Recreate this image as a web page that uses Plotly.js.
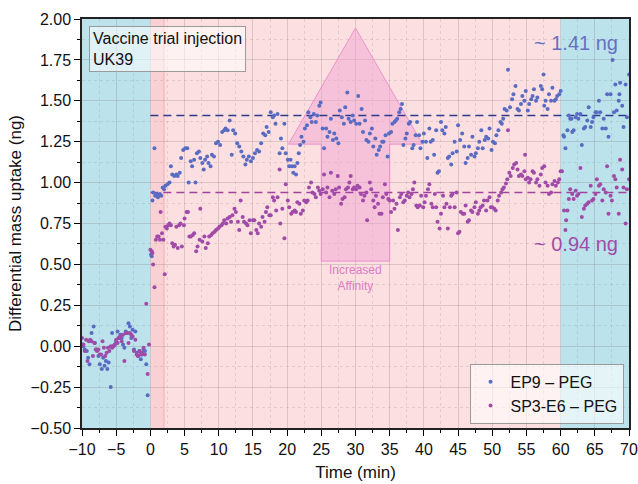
<!DOCTYPE html>
<html>
<head>
<meta charset="utf-8">
<script src="https://cdn.plot.ly/plotly-3.0.1.min.js"></script>
<style>html,body{margin:0;padding:0;background:#fff;}#chart{width:638px;height:484px;}</style>
</head>
<body>
<div id="chart"></div>
<script>
// EP9 – PEG (time in min, mass uptake in ng)
const ep9Time = [-10.0,-9.8,-9.6,-9.3,-9.1,-8.9,-8.6,-8.3,-8.1,-7.9,-7.6,-7.4,-7.1,-6.9,-6.7,-6.5,-6.3,-6.1,-5.8,-5.6,-5.4,-5.2,-5.0,-4.8,-4.6,-4.4,-4.2,-4.0,-3.8,-3.6,-3.4,-3.2,-3.0,-2.8,-2.6,-2.4,-2.2,-2.0,-1.8,-1.6,-1.4,-1.2,-1.0,-0.8,-0.6,-0.4,
0.1,0.2,0.3,0.4,0.6,0.7,0.9,1.1,1.2,1.4,1.6,1.8,2.0,2.2,2.5,2.8,3.0,3.2,3.5,3.8,4.0,4.3,4.5,4.8,5.1,5.4,5.6,5.9,6.1,6.4,6.6,6.8,7.1,7.3,7.6,7.8,8.0,8.3,8.5,8.8,9.0,9.3,9.6,9.9,10.2,10.5,10.8,11.0,11.3,11.6,11.9,12.1,12.4,12.7,13.0,13.3,13.6,13.9,14.1,14.4,14.7,15.0,15.3,15.6,15.9,16.2,16.5,16.8,17.0,17.3,17.6,17.9,18.1,18.3,18.6,18.9,19.1,19.3,19.6,19.8,20.1,20.3,20.5,20.7,20.9,21.1,21.3,21.5,21.7,21.9,22.1,22.4,22.6,22.9,23.1,23.4,23.6,23.9,24.2,24.4,24.7,24.9,25.2,25.4,25.7,25.9,26.2,26.4,26.7,26.9,27.2,27.5,27.7,28.0,28.3,28.5,28.8,29.0,29.3,29.6,29.8,30.1,30.4,30.6,30.9,31.1,31.4,31.6,31.9,32.1,32.4,32.6,32.9,33.1,33.4,33.6,33.9,34.1,34.4,34.7,34.9,35.2,35.4,35.7,35.9,36.1,36.4,36.6,36.8,37.0,37.3,37.5,37.8,38.0,38.3,38.5,38.8,39.0,39.3,39.5,39.8,40.0,40.3,40.5,40.8,41.0,41.3,41.5,41.8,42.0,42.2,42.5,42.7,43.0,43.2,43.5,43.7,44.0,44.2,44.5,44.8,45.0,45.3,45.6,45.9,46.1,46.4,46.6,46.9,47.1,47.4,47.6,47.9,48.1,48.4,48.6,48.9,49.1,49.4,49.6,49.9,50.1,50.4,50.6,50.9,51.2,51.4,51.6,51.8,52.1,52.3,52.6,52.9,53.1,53.4,53.7,53.9,54.2,54.4,54.7,54.9,55.2,55.4,55.7,55.9,56.1,56.4,56.6,57.1,57.3,57.5,57.6,57.8,58.1,58.3,58.6,58.8,59.1,59.3,59.5,59.8,60.0,
60.4,60.5,60.7,61.0,61.2,61.4,61.6,61.7,61.9,62.2,62.4,62.6,62.9,63.1,63.4,63.6,63.9,64.1,64.4,64.6,64.8,65.1,65.3,65.6,65.8,66.1,66.3,66.6,66.8,67.0,67.3,67.6,67.8,68.0,68.2,68.5,68.6,68.7,69.0,69.2,69.5,69.7,70.0];
const ep9Uptake = [0.01,0.00,-0.02,-0.03,-0.07,-0.11,0.08,0.12,0.02,-0.02,-0.06,-0.11,-0.14,-0.07,-0.12,-0.09,-0.14,-0.10,-0.25,0.08,0.00,0.01,0.03,0.09,0.05,0.07,0.05,0.01,-0.01,0.09,0.08,0.14,0.12,0.05,0.10,-0.02,0.09,-0.04,-0.06,-0.03,-0.08,-0.05,-0.02,-0.03,-0.11,-0.30,
0.56,0.55,0.89,0.94,1.21,0.92,0.93,0.91,0.92,0.93,0.92,0.97,0.96,0.98,0.99,1.00,1.10,1.05,1.04,1.05,1.04,1.06,1.15,1.20,1.21,1.21,1.00,1.13,1.10,1.14,1.00,1.18,1.19,1.15,1.12,1.08,1.14,1.16,1.12,1.10,1.17,1.16,1.24,1.25,1.23,1.31,1.32,1.33,1.32,1.38,1.17,1.32,1.30,1.24,1.22,1.19,1.16,1.11,1.14,1.16,1.13,1.15,1.18,1.20,1.19,1.24,1.30,1.29,1.34,1.31,1.43,1.40,1.41,1.36,1.42,1.18,1.27,1.21,1.36,1.18,1.14,1.10,1.14,1.10,1.06,1.10,1.05,1.12,1.18,1.23,1.28,1.25,1.33,1.35,1.43,1.40,1.37,1.42,1.37,1.41,1.47,1.49,1.33,1.21,1.33,1.28,1.31,1.39,1.26,1.30,1.27,1.24,1.44,1.40,1.36,1.46,1.55,1.39,1.37,1.41,1.38,1.36,1.53,1.36,1.45,1.31,1.38,1.26,1.25,1.30,1.33,1.22,1.27,1.17,1.20,1.22,1.25,1.25,1.29,1.16,1.30,1.31,1.36,1.37,1.38,1.39,1.43,1.45,1.48,1.23,1.27,1.30,1.36,1.37,1.21,1.23,1.29,1.37,1.29,1.21,1.25,1.30,1.25,1.15,1.33,1.25,1.26,1.17,1.32,1.06,1.07,1.37,1.32,1.30,1.34,1.15,1.16,1.11,1.18,1.25,1.19,1.35,1.26,1.30,1.22,1.12,1.15,1.22,1.17,1.28,1.16,1.18,1.21,1.25,1.32,1.21,1.26,1.28,1.27,1.33,1.20,1.25,1.24,1.29,1.32,1.37,1.36,1.39,1.45,1.44,1.69,1.46,1.51,1.54,1.59,1.45,1.44,1.48,1.53,1.50,1.56,1.44,1.48,1.51,1.53,1.57,1.50,1.52,1.59,1.57,1.66,1.47,1.50,1.45,1.54,1.50,1.58,1.50,1.51,1.53,1.54,1.56,
1.29,1.28,1.21,1.32,1.41,1.39,1.39,1.31,1.32,1.40,1.42,1.39,1.42,1.23,1.33,1.34,1.38,1.46,1.34,1.37,1.40,1.43,1.43,1.50,1.43,1.33,1.39,1.33,1.54,1.28,1.54,1.75,1.43,1.60,1.44,1.50,1.54,1.61,1.47,1.34,1.60,1.40,1.66];

// SP3-E6 – PEG
const sp3Time = [-10.0,-9.8,-9.6,-9.4,-9.2,-9.0,-8.8,-8.6,-8.4,-8.2,-8.0,-7.8,-7.6,-7.4,-7.2,-7.0,-6.8,-6.6,-6.4,-6.2,-6.0,-5.8,-5.6,-5.4,-5.2,-5.0,-4.8,-4.6,-4.4,-4.2,-4.0,-3.8,-3.6,-3.4,-3.2,-3.0,-2.8,-2.6,-2.4,-2.2,-2.0,-1.8,-1.6,-1.4,-1.2,-1.0,-0.8,-0.6,-0.4,-0.2,
0.0,0.2,0.3,0.4,0.6,0.8,1.0,1.2,1.4,1.5,1.7,1.9,2.1,2.2,2.4,2.6,2.8,3.0,3.2,3.4,3.6,3.8,4.0,4.2,4.4,4.6,4.9,5.0,5.3,5.5,5.7,5.9,6.2,6.4,6.7,6.9,7.2,7.3,7.6,7.9,8.1,8.4,8.6,8.9,9.1,9.4,9.6,9.9,10.1,10.4,10.6,10.8,11.1,11.3,11.6,11.8,12.0,12.3,12.5,12.8,13.0,13.2,13.5,13.7,14.0,14.2,14.5,14.7,15.0,15.2,15.5,15.7,15.9,16.2,16.4,16.7,16.9,17.1,17.4,17.6,17.9,18.1,18.4,18.6,18.9,19.0,19.3,19.6,19.8,20.1,20.3,20.6,20.8,21.1,21.3,21.5,21.8,22.0,22.3,22.5,22.8,23.0,23.2,23.5,23.7,24.0,24.2,24.5,24.7,24.9,25.2,25.4,25.7,25.9,26.2,26.4,26.6,26.9,27.1,27.4,27.6,27.9,28.1,28.4,28.6,28.9,29.1,29.3,29.6,29.8,30.1,30.3,30.6,30.8,31.1,31.3,31.6,31.7,32.1,32.3,32.6,32.8,33.0,33.3,33.5,33.8,34.0,34.3,34.5,34.8,35.0,35.2,35.5,35.7,36.0,36.2,36.5,36.7,37.0,37.2,37.5,37.7,37.9,38.2,38.4,38.6,38.9,39.1,39.4,39.6,39.9,40.1,40.3,40.6,40.8,41.1,41.3,41.6,41.8,42.0,42.3,42.5,42.8,43.0,43.3,43.5,43.8,44.0,44.2,44.5,44.8,45.0,45.2,45.4,45.7,45.9,46.1,46.4,46.6,46.9,47.1,47.4,47.6,47.9,48.1,48.3,48.6,48.8,49.1,49.3,49.6,49.8,50.0,50.3,50.5,50.8,51.0,51.3,51.5,51.7,52.0,52.2,52.3,52.5,52.7,53.0,53.2,53.5,53.7,53.9,54.2,54.4,54.7,54.8,54.9,55.2,55.4,55.6,55.9,56.1,56.4,56.6,56.9,57.1,57.3,57.6,57.8,58.1,58.3,58.6,58.8,59.1,59.3,59.6,59.8,60.0,
60.2,60.5,60.7,60.8,61.0,61.2,61.4,61.7,61.9,62.2,62.4,62.6,62.9,63.1,63.4,63.6,63.9,64.1,64.4,64.6,64.8,65.1,65.3,65.6,65.8,66.1,66.3,66.6,66.8,67.0,67.3,67.5,67.8,68.0,68.2,68.5,68.7,69.0,69.2,69.5,69.7,70.0];
const sp3Uptake = [0.05,0.01,-0.03,0.04,-0.09,0.03,0.04,0.03,-0.06,0.02,-0.02,-0.03,-0.02,-0.05,-0.05,0.03,-0.01,-0.06,-0.04,-0.01,-0.03,0.00,-0.01,0.00,0.01,0.04,0.02,0.05,0.06,0.03,0.07,-0.09,0.08,0.08,0.02,0.08,0.07,0.06,-0.03,0.04,-0.05,-0.06,-0.03,-0.05,-0.04,-0.01,-0.05,0.26,-0.17,0.01,
0.59,0.58,0.57,0.50,0.36,0.65,0.67,0.67,0.65,0.82,0.69,0.65,0.44,0.73,0.72,0.74,0.75,0.74,0.63,0.61,0.62,0.73,0.60,0.74,0.75,0.61,0.74,0.78,0.82,0.82,0.67,0.67,0.68,0.69,0.58,0.61,0.65,0.84,0.64,0.67,0.60,0.63,0.67,0.68,0.69,0.70,0.71,0.72,0.73,0.74,0.75,0.77,0.75,0.78,0.79,0.76,0.80,0.84,0.82,0.76,0.71,0.89,0.79,0.76,0.75,0.74,0.77,0.69,0.77,0.77,0.71,0.69,0.75,0.73,0.79,0.76,0.82,0.85,0.80,0.80,0.91,0.89,0.83,0.91,1.08,0.75,0.84,0.66,0.99,0.89,0.85,0.81,0.82,0.83,0.82,0.88,0.87,0.81,0.83,0.89,0.88,0.89,0.97,1.00,0.94,0.93,0.91,0.97,0.95,0.93,0.96,1.05,0.94,0.97,0.91,1.06,0.95,0.93,0.96,1.04,0.97,0.87,0.90,0.91,0.96,0.97,1.00,1.04,0.96,0.97,0.96,0.98,0.97,0.93,0.89,0.92,0.94,0.77,1.00,0.96,0.89,0.85,0.92,0.87,0.81,0.81,0.91,0.99,0.93,0.90,0.89,0.82,0.89,0.84,0.87,0.71,0.91,0.93,0.88,0.89,0.92,0.94,0.91,0.93,0.96,1.00,0.86,0.85,0.86,0.92,0.85,0.88,0.92,0.96,0.99,0.87,0.85,0.93,0.85,0.76,0.72,0.81,0.92,0.85,0.87,0.72,0.85,0.92,0.93,0.85,0.94,0.69,0.70,0.82,0.81,0.81,0.86,0.76,0.77,0.83,0.82,0.85,0.88,0.81,0.83,0.85,0.86,0.89,0.83,0.89,0.91,0.85,0.85,0.84,0.83,0.89,0.92,0.94,0.96,0.97,0.995,1.02,1.32,1.06,1.04,1.09,1.11,1.12,1.08,1.04,1.05,1.04,1.07,1.17,1.02,1.03,1.00,1.02,1.07,1.06,1.00,1.02,0.98,1.05,1.09,1.10,1.00,0.98,0.93,0.94,0.99,1.01,0.98,1.00,1.02,1.07,
1.07,0.83,0.71,0.77,0.83,0.90,0.96,0.93,0.90,0.95,0.92,0.93,1.09,0.79,0.84,0.86,0.87,0.88,0.98,0.89,0.90,0.93,1.02,0.98,0.99,0.89,0.96,0.94,1.10,0.81,0.92,0.89,1.04,1.02,0.97,0.81,1.14,1.08,0.97,0.75,0.96,1.02];

const seriesNames = ['EP9 \u2013 PEG', 'SP3-E6 \u2013 PEG'];
const plateauValues = [1.41, 0.94];
const plateauLabels = ['~ 1.41 ng', '~ 0.94 ng'];
const phaseBounds = [-10, 0, 60, 70];

const FONT = '"Liberation Sans", Arial, sans-serif';
const blue = '#5a6cc2', purple = '#a04ba8';
const cyan = '#bce3ec', pink = '#fcdfe0';

const traces = [
  {x: ep9Time, y: ep9Uptake, type: 'scatter', mode: 'markers', name: seriesNames[0],
   marker: {color: blue, size: 4}},
  {x: sp3Time, y: sp3Uptake, type: 'scatter', mode: 'markers', name: seriesNames[1],
   marker: {color: purple, size: 4}}
];

const shapes = [
  {type:'rect', xref:'x', yref:'paper', x0:phaseBounds[0], x1:phaseBounds[1], y0:0, y1:1, fillcolor:cyan, line:{width:0}, layer:'below'},
  {type:'rect', xref:'x', yref:'paper', x0:phaseBounds[1], x1:phaseBounds[2], y0:0, y1:1, fillcolor:pink, line:{width:0}, layer:'below'},
  {type:'rect', xref:'x', yref:'paper', x0:phaseBounds[2], x1:phaseBounds[3], y0:0, y1:1, fillcolor:cyan, line:{width:0}, layer:'below'},
  {type:'rect', xref:'x', yref:'paper', x0:0, x1:2, y0:0, y1:1, fillcolor:'rgba(240,150,165,0.18)', line:{width:0}, layer:'below'},
  {type:'line', xref:'x', yref:'paper', x0:2, x1:2, y0:0, y1:1, line:{color:'rgba(240,140,150,0.55)', width:1}, layer:'below'},
  // arrow
  {type:'path', xref:'x', yref:'y', layer:'between',
   path:'M 25 0.52 L 35 0.52 L 35 1.235 L 39.8 1.235 L 30 1.945 L 20.2 1.235 L 25 1.235 Z',
   fillcolor:'rgba(240,160,210,0.45)', line:{color:'rgba(235,130,200,0.8)', width:1}},
  {type:'line', xref:'x', yref:'y', x0:0, x1:70, y0:plateauValues[0], y1:plateauValues[0], line:{color:'#2e3a8c', width:1.5, dash:'8px,5px'}, layer:'between'},
  {type:'line', xref:'x', yref:'y', x0:0, x1:70, y0:plateauValues[1], y1:plateauValues[1], line:{color:'#a2449f', width:1.5, dash:'8px,5px'}, layer:'between'}
];

const annotations = [
  {xref:'paper', yref:'paper', x:0.013, y:0.983, xanchor:'left', yanchor:'top', align:'left', showarrow:false,
   text:'Vaccine trial injection<br>UK39', font:{family:FONT, size:16, color:'#111'},
   bgcolor:'rgba(255,255,255,0.55)', bordercolor:'#9a9a9a', borderwidth:1, borderpad:3},
  {xref:'x', yref:'y', x:62.3, y:1.855, showarrow:false, text:plateauLabels[0], font:{family:FONT, size:20, color:'#6670c0'}},
  {xref:'x', yref:'y', x:62.3, y:0.625, showarrow:false, text:plateauLabels[1], font:{family:FONT, size:20, color:'#a04ba8'}},
  {xref:'x', yref:'y', x:30, y:0.415, showarrow:false, text:'Increased<br>Affinity', font:{family:FONT, size:12, color:'#e07cc4'}}
];

const layout = {
  width: 638, height: 484,
  margin: {l: 82, r: 9, t: 19, b: 56},
  paper_bgcolor: '#fff', plot_bgcolor: '#fff',
  font: {family: FONT, size: 16, color: '#111'},
  showlegend: true,
  legend: {x: 0.99, y: 0.01, xanchor: 'right', yanchor: 'bottom', bgcolor: 'rgba(255,255,255,0.6)',
    bordercolor: '#9a9a9a', borderwidth: 1, font: {family: FONT, size: 16, color: '#111'}, itemsizing: 'trace', tracegroupgap: 0},
  xaxis: {range: [-10, 70], dtick: 5, tick0: 0, ticks: 'outside', ticklen: 6, tickwidth: 1.2, tickcolor: '#000',
    showline: true, linecolor: '#222', linewidth: 1.5, mirror: true, zeroline: false,
    showgrid: true, gridcolor: 'rgba(120,110,110,0.24)', gridwidth: 1,
    minor: {dtick: 2.5, ticks: 'outside', ticklen: 3, tickcolor: '#000', showgrid: true, gridcolor: 'rgba(120,110,110,0.18)', griddash: 'dot', gridwidth: 1},
    tickfont: {family: FONT, size: 16, color: '#111'},
    title: {text: 'Time (min)', font: {family: FONT, size: 17, color: '#111'}, standoff: 9}},
  yaxis: {range: [-0.5, 2.0], dtick: 0.25, tick0: 0, tickformat: '.2f', ticks: 'outside', ticklen: 6, tickwidth: 1.2, tickcolor: '#000',
    showline: true, linecolor: '#222', linewidth: 1.5, mirror: true, zeroline: false,
    showgrid: true, gridcolor: 'rgba(120,110,110,0.24)', gridwidth: 1,
    minor: {dtick: 0.125, ticks: 'outside', ticklen: 3, tickcolor: '#000', showgrid: true, gridcolor: 'rgba(120,110,110,0.18)', griddash: 'dot', gridwidth: 1},
    tickfont: {family: FONT, size: 16, color: '#111'},
    title: {text: 'Differential mass uptake (ng)', font: {family: FONT, size: 17, color: '#111'}, standoff: 5}},
  shapes: shapes,
  annotations: annotations
};

Plotly.newPlot('chart', traces, layout, {displayModeBar: false, responsive: false});
</script>
</body>
</html>
